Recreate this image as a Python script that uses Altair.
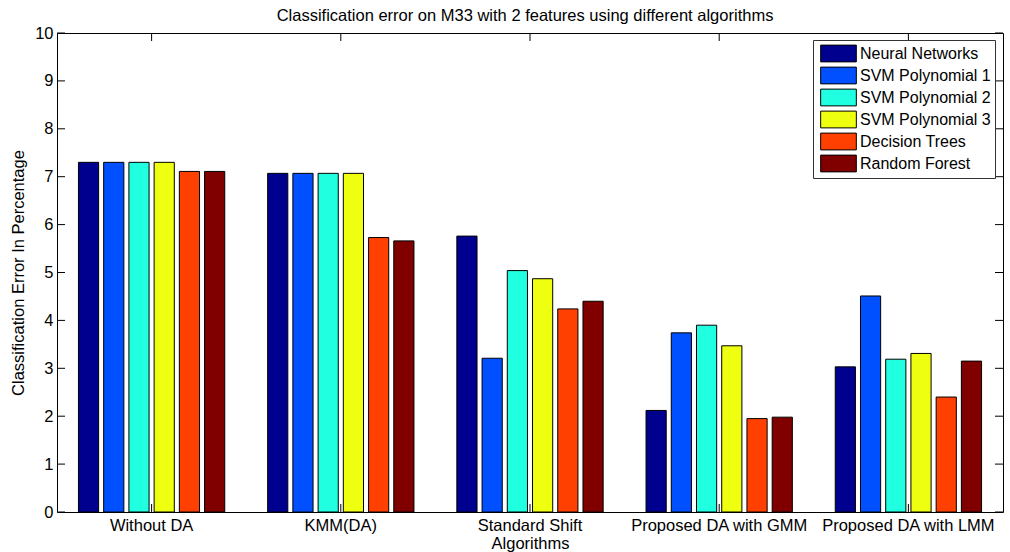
import altair as alt
import pandas as pd

groups = ["Without DA", "KMM(DA)", "Standard Shift", "Proposed DA with GMM", "Proposed DA with LMM"]
algorithms = ["Neural Networks", "SVM Polynomial 1", "SVM Polynomial 2",
              "SVM Polynomial 3", "Decision Trees", "Random Forest"]
neural_networks = [7.30, 7.07, 5.76, 2.12, 3.03]
svm_poly_1 = [7.30, 7.07, 3.21, 3.74, 4.51]
svm_poly_2 = [7.30, 7.07, 5.04, 3.90, 3.19]
svm_poly_3 = [7.30, 7.07, 4.87, 3.47, 3.31]
decision_trees = [7.11, 5.73, 4.24, 1.95, 2.40]
random_forest = [7.11, 5.66, 4.40, 1.98, 3.15]
colors = ["#00008F", "#0050FF", "#20FFDF", "#EFFF10", "#FF4000", "#800000"]
y_ticks = [0, 1, 2, 3, 4, 5, 6, 7, 8, 9, 10]

series = [neural_networks, svm_poly_1, svm_poly_2, svm_poly_3, decision_trees, random_forest]
rows = []
for alg, vals in zip(algorithms, series):
    for g, v in zip(groups, vals):
        rows.append({"group": g, "algorithm": alg, "value": v})
df = pd.DataFrame(rows)
tick_df = pd.DataFrame({"value": y_ticks})
group_df = pd.DataFrame({"group": groups})

W, H = 946, 479
FONT = "Liberation Sans"
TL = 8

xscale = alt.Scale(domain=groups, paddingInner=0.2, paddingOuter=0.1)
yscale = alt.Scale(domain=[0, 10], nice=False)

x_axis = alt.Axis(title="Algorithms", labelAngle=0, domain=False, ticks=False,
                  labelPadding=5, labelFontSize=16.5, labelFont=FONT,
                  labelColor="black", titleFontSize=16.5, titleFont=FONT,
                  titleFontWeight="normal", titleColor="black",
                  titleY=36, titleBaseline="alphabetic", labelLimit=300)
y_axis = alt.Axis(title="Classification Error In Percentage", values=y_ticks,
                  domain=False, ticks=False, grid=False, labelPadding=4,
                  labelFontSize=16.5, labelFont=FONT, labelColor="black",
                  titleFontSize=16.5, titleFont=FONT, titleFontWeight="normal",
                  titleColor="black", titleAngle=270, titleX=-34, titleY=H / 2,
                  titleAlign="center", titleBaseline="alphabetic")

bars = alt.Chart(df).mark_bar(stroke="black", strokeWidth=1).encode(
    x=alt.X("group:N", sort=groups, scale=xscale, axis=x_axis),
    xOffset=alt.XOffset("algorithm:N", sort=algorithms,
                        scale=alt.Scale(paddingInner=0.2, paddingOuter=0.1)),
    y=alt.Y("value:Q", scale=yscale, axis=y_axis),
    color=alt.Color("algorithm:N", sort=algorithms,
                    scale=alt.Scale(domain=algorithms, range=colors),
                    legend=alt.Legend(title=None, orient="none", legendX=756, legendY=7,
                                      padding=4, fillColor="white", strokeColor="#333",
                                      symbolType="M-2,-0.94L2,-0.94L2,0.94L-2,0.94Z",
                                      symbolSize=318, symbolStrokeColor="black",
                                      symbolStrokeWidth=1, symbolOpacity=1,
                                      symbolOffset=12, labelOffset=12, rowPadding=1,
                                      labelFontSize=16, labelFont=FONT,
                                      labelColor="black", labelLimit=300)),
)

left_ticks = alt.Chart(tick_df).mark_rule(color="black", strokeWidth=1).encode(
    y=alt.Y("value:Q", scale=yscale, axis=y_axis), x=alt.value(0), x2=alt.value(TL))
right_ticks = alt.Chart(tick_df).mark_rule(color="black", strokeWidth=1).encode(
    y=alt.Y("value:Q", scale=yscale, axis=y_axis), x=alt.value(W - TL), x2=alt.value(W))
top_ticks = alt.Chart(group_df).mark_rule(color="black", strokeWidth=1).encode(
    x=alt.X("group:N", sort=groups, scale=xscale, axis=x_axis), y=alt.value(0), y2=alt.value(TL))
bottom_ticks = alt.Chart(group_df).mark_rule(color="black", strokeWidth=1).encode(
    x=alt.X("group:N", sort=groups, scale=xscale, axis=x_axis), y=alt.value(H - TL), y2=alt.value(H))

chart = alt.layer(bars, left_ticks, right_ticks, top_ticks, bottom_ticks).properties(
    width=W, height=H,
    title=alt.TitleParams("Classification error on M33 with 2 features using different algorithms",
                          fontSize=16.5, font=FONT, fontWeight="normal", color="black",
                          anchor="middle", baseline="alphabetic", offset=3, dx=-5, dy=15),
    autosize=alt.AutoSizeParams(type="none"),
    padding={"left": 57, "top": 33, "right": 7, "bottom": 40},
    background="white",
).configure_view(stroke="black", strokeWidth=1)

chart.save("out.html", embed_options={"renderer": "svg", "actions": False})
